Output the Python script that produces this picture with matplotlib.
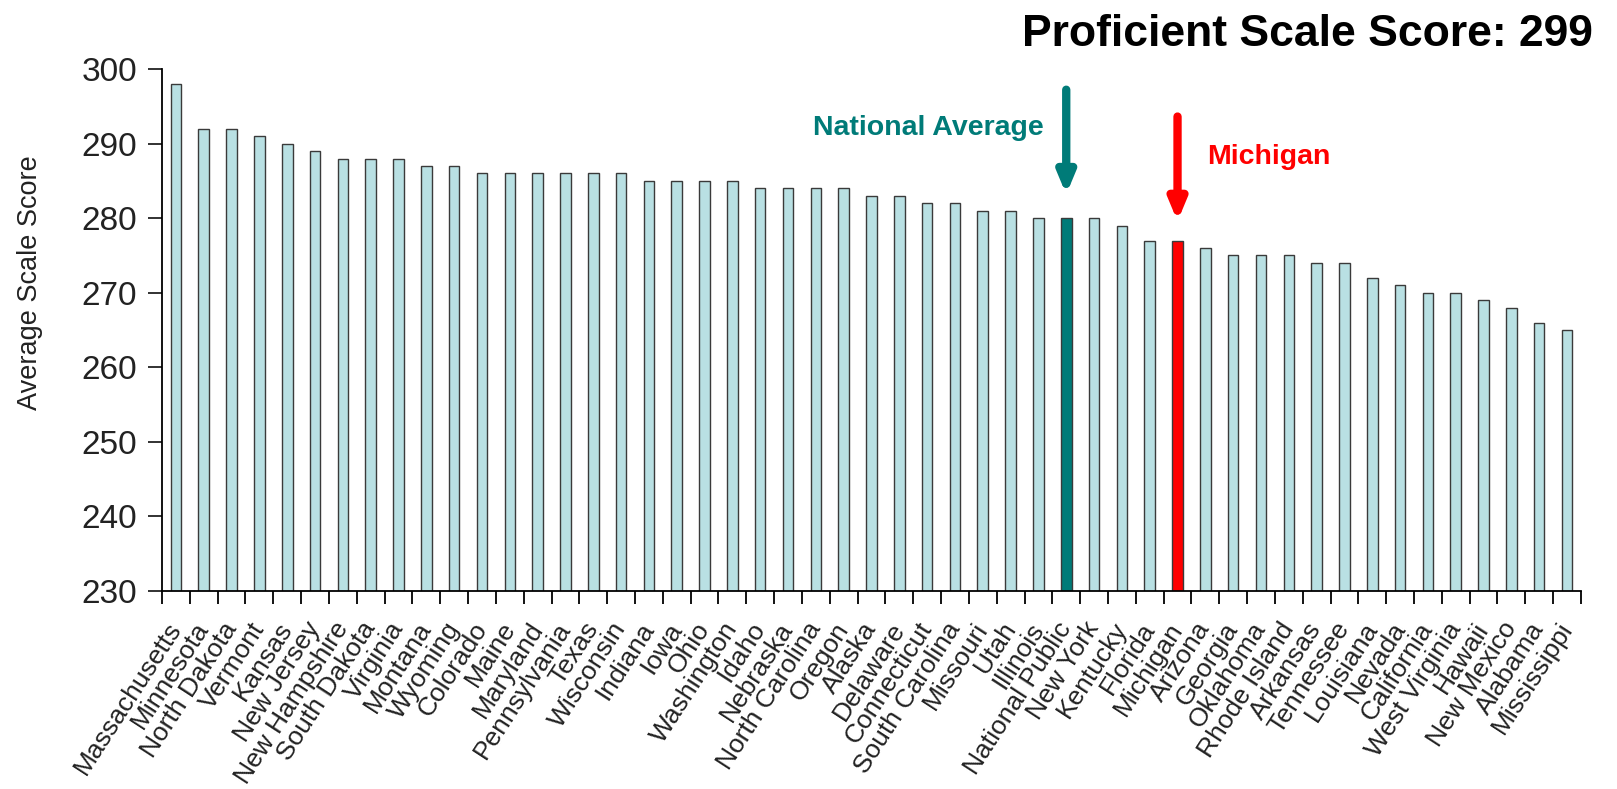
import numpy as np
import matplotlib
matplotlib.use("Agg")
import matplotlib.pyplot as plt

plt.rcParams['font.family'] = ['Liberation Sans', 'DejaVu Sans']

states = ['Massachusetts', 'Minnesota', 'North Dakota', 'Vermont', 'Kansas',
          'New Jersey', 'New Hampshire', 'South Dakota', 'Virginia', 'Montana',
          'Wyoming', 'Colorado', 'Maine', 'Maryland', 'Pennsylvania', 'Texas',
          'Wisconsin', 'Indiana', 'Iowa', 'Ohio', 'Washington', 'Idaho',
          'Nebraska', 'North Carolina', 'Oregon', 'Alaska', 'Delaware',
          'Connecticut', 'South Carolina', 'Missouri', 'Utah', 'Illinois',
          'National Public', 'New York', 'Kentucky', 'Florida', 'Michigan',
          'Arizona', 'Georgia', 'Oklahoma', 'Rhode Island', 'Arkansas',
          'Tennessee', 'Louisiana', 'Nevada', 'California', 'West Virginia',
          'Hawaii', 'New Mexico', 'Alabama', 'Mississippi']
scores = [298, 292, 292, 291, 290, 289, 288, 288, 288, 287, 287, 286, 286, 286,
          286, 286, 286, 285, 285, 285, 285, 284, 284, 284, 284, 283, 283, 282,
          282, 281, 281, 280, 280, 280, 279, 277, 277, 276, 275, 275, 275, 274,
          274, 272, 271, 270, 270, 269, 268, 266, 265]
proficient = 299

teal = '#007b78'
red = '#ff0000'
x = np.arange(len(states))
colors = ['#b9e0e3'] * len(states)
colors[states.index('National Public')] = teal
colors[states.index('Michigan')] = red

fig = plt.figure(figsize=(16.17, 7.89), dpi=100)
ax = fig.add_axes([0.1002, 0.251, 0.8775, 0.6615])

ax.bar(x, scores, width=0.38, color=colors, edgecolor='#3a3a3a', linewidth=1.0)

ax.set_xlim(-0.5, len(states) - 0.5)
ax.set_ylim(230, 300)
ax.set_yticks(np.arange(230, 301, 10))
ax.tick_params(axis='y', labelsize=24, length=10, width=1.3, pad=8, colors='#222222')

# category labels on major ticks, tick marks on the boundaries
ax.set_xticks(x)
ax.set_xticklabels(states, rotation=57, ha='right', va='center',
                   rotation_mode='anchor', fontsize=19, color='#222222')
ax.tick_params(axis='x', which='major', length=0, pad=24)
ax.set_xticks(np.arange(-0.5, len(states), 1), minor=True)
ax.tick_params(axis='x', which='minor', length=9, width=1.3)

for s in ['top', 'right']:
    ax.spines[s].set_visible(False)
for s in ['left', 'bottom']:
    ax.spines[s].set_linewidth(1.3)

ax.set_ylabel('Average Scale Score', fontsize=19.5, color='#222222')
ax.yaxis.set_label_coords(-0.084, 0.59)

nat = states.index('National Public')
mi = states.index('Michigan')
arrow = dict(arrowstyle='-|>,head_width=0.5,head_length=1.2', lw=6)
ax.annotate('', xy=(nat, 282.8), xytext=(nat, 297.6),
            arrowprops=dict(arrow, color=teal), annotation_clip=False)
ax.annotate('', xy=(mi, 279.2), xytext=(mi, 294.0),
            arrowprops=dict(arrow, color=red), annotation_clip=False)
ax.text(nat - 0.8, 292.1, 'National Average', color=teal, fontsize=20.5,
        fontweight='bold', ha='right', va='center')
ax.text(mi + 1.05, 288.2, 'Michigan', color=red, fontsize=20.5,
        fontweight='bold', ha='left', va='center')

fig.text(0.985, 0.956, 'Proficient Scale Score: %d' % proficient, fontsize=32,
         fontweight='bold', ha='right', va='center')

fig.savefig('out.png', dpi=100)
